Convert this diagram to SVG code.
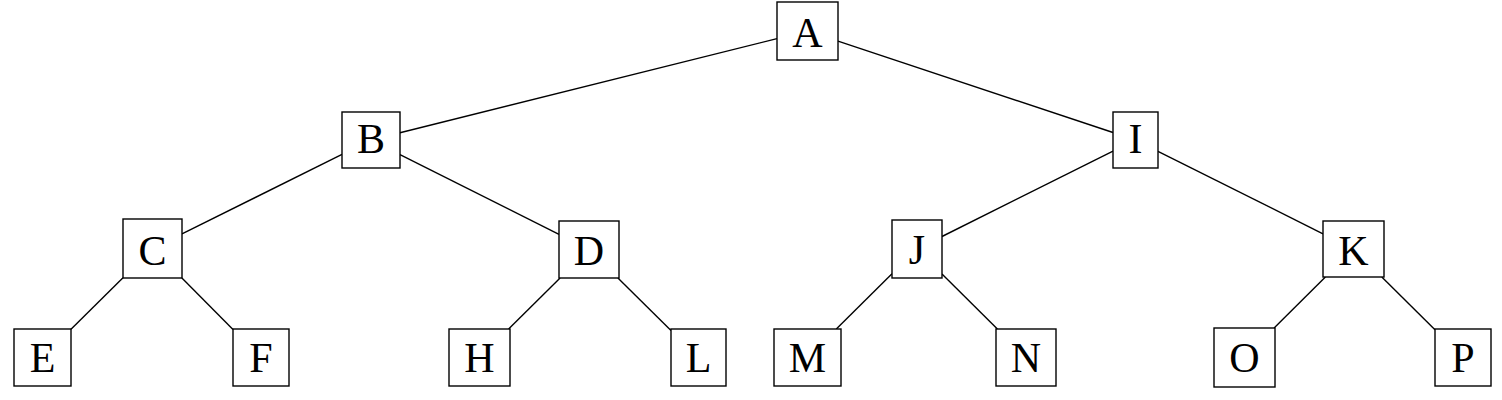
<svg xmlns="http://www.w3.org/2000/svg" width="1502" height="400" viewBox="0 0 1502 400">
<style>
.box{fill:#fff;stroke:#000;stroke-width:1.4}
.lbl{font-family:"Liberation Serif","DejaVu Serif",serif;font-size:42px;fill:#000;text-anchor:middle}
.edge{stroke:#000;stroke-width:1.4;fill:none}
</style>
<rect width="1502" height="400" fill="#fff"/>
<g id="connectors">
<line class="edge" x1="777" y1="38.6" x2="400" y2="132.8"/>
<line class="edge" x1="838" y1="41.1" x2="1113" y2="132.5"/>
<line class="edge" x1="342" y1="154.4" x2="182" y2="233.9"/>
<line class="edge" x1="400" y1="154.6" x2="559" y2="234.4"/>
<line class="edge" x1="1113" y1="151.2" x2="942" y2="236.5"/>
<line class="edge" x1="1158" y1="151.3" x2="1323" y2="233.8"/>
<line class="edge" x1="123" y1="277.7" x2="71" y2="329.3"/>
<line class="edge" x1="181.9" y1="278" x2="233" y2="329.4"/>
<line class="edge" x1="560.1" y1="278" x2="508.6" y2="329"/>
<line class="edge" x1="617.9" y1="278" x2="671" y2="330.4"/>
<line class="edge" x1="892" y1="273.8" x2="836.3" y2="329"/>
<line class="edge" x1="942" y1="273.9" x2="997.4" y2="329"/>
<line class="edge" x1="1325.4" y1="277" x2="1274.1" y2="328"/>
<line class="edge" x1="1381.8" y1="277" x2="1435" y2="329.8"/>
</g>
<g id="node-A"><rect class="box" x="777" y="2" width="61" height="58"/><text class="lbl" x="807.5" y="47">A</text></g>
<g id="node-B"><rect class="box" x="342" y="112" width="58" height="56"/><text class="lbl" x="371" y="153">B</text></g>
<g id="node-I"><rect class="box" x="1113" y="112" width="45" height="56"/><text class="lbl" x="1135.5" y="153">I</text></g>
<g id="node-C"><rect class="box" x="123" y="219" width="59" height="59"/><text class="lbl" x="152.5" y="265">C</text></g>
<g id="node-D"><rect class="box" x="559" y="221" width="60" height="57"/><text class="lbl" x="589" y="265">D</text></g>
<g id="node-J"><rect class="box" x="892" y="220" width="50" height="58"/><text class="lbl" x="917" y="264">J</text></g>
<g id="node-K"><rect class="box" x="1323" y="221" width="61" height="56"/><text class="lbl" x="1353.5" y="265">K</text></g>
<g id="node-E"><rect class="box" x="14" y="329" width="57" height="57"/><text class="lbl" x="42.5" y="372">E</text></g>
<g id="node-F"><rect class="box" x="233" y="329" width="56" height="57"/><text class="lbl" x="261" y="372">F</text></g>
<g id="node-H"><rect class="box" x="449" y="329" width="61" height="57"/><text class="lbl" x="479.5" y="372">H</text></g>
<g id="node-L"><rect class="box" x="671" y="329" width="55" height="57"/><text class="lbl" x="698.5" y="372">L</text></g>
<g id="node-M"><rect class="box" x="774" y="329" width="67" height="57"/><text class="lbl" x="807.5" y="372">M</text></g>
<g id="node-N"><rect class="box" x="996" y="329" width="60" height="57"/><text class="lbl" x="1026" y="372">N</text></g>
<g id="node-O"><rect class="box" x="1214" y="328" width="61" height="59"/><text class="lbl" x="1244.5" y="372">O</text></g>
<g id="node-P"><rect class="box" x="1435" y="329" width="56" height="57"/><text class="lbl" x="1463" y="372">P</text></g>
</svg>
